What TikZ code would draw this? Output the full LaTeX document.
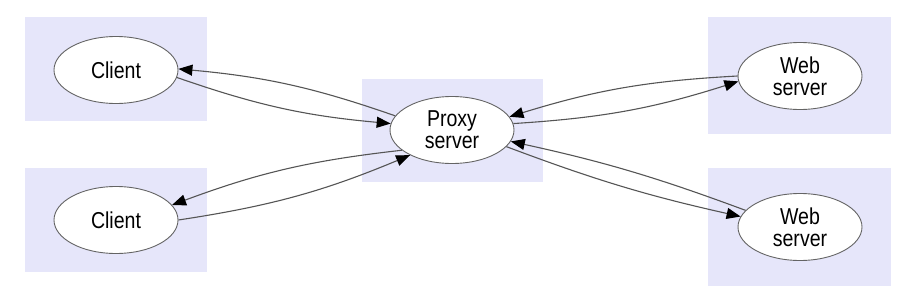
\documentclass[tikz,border=0pt]{standalone}
\usepackage{fontspec}
\setmainfont[FakeStretch=0.85]{Liberation Sans}
\usetikzlibrary{arrows.meta,shapes.geometric}
\definecolor{bgblue}{RGB}{230,230,250}
\definecolor{edgegray}{RGB}{85,85,85}
\definecolor{ellgray}{RGB}{100,100,100}
\begin{document}
\begin{tikzpicture}[x=1pt,y=-1pt,
  bgbox/.style={fill=bgblue,draw=none,inner sep=0pt},
  host/.style={ellipse,draw=ellgray,line width=0.9pt,fill=white,minimum width=124pt,minimum height=67pt,inner sep=0pt,align=center,font=\fontsize{23}{22}\selectfont},
  link/.style={draw=edgegray,line width=1.1pt,-{Triangle[length=14pt,width=11pt,fill=black,color=black]},bend right=7}]
\useasboundingbox (0,0) rectangle (914,300);
% background boxes
\node[bgbox,minimum width=182pt,minimum height=104pt] (bc1) at (116,69) {};
\node[bgbox,minimum width=182pt,minimum height=104pt] (bc2) at (116,220) {};
\node[bgbox,minimum width=181pt,minimum height=103pt] (bp) at (452.5,130.5) {};
\node[bgbox,minimum width=183pt,minimum height=117pt] (bw1) at (799.5,75.5) {};
\node[bgbox,minimum width=183pt,minimum height=118pt] (bw2) at (799.5,227) {};
% hosts
\node[host] (c1) at (116,70) {Client};
\node[host] (c2) at (116,220) {Client};
\node[host] (p) at (452,130) {Proxy\\server};
\node[host] (w1) at (800,76) {Web\\server};
\node[host] (w2) at (800,227) {Web\\server};
% connectors
\draw[link] (c1.-7) to (p.174);
\draw[link] (p.166) to (c1.1);
\draw[link] (c2.0) to (p.211);
\draw[link] (p.202) to (c2.15);
\draw[link] (p.6) to (w1.185);
\draw[link] (w1.180) to (p.13);
\draw[link,bend right=4] (p.-17) to (w2.170);
\draw[link,bend right=4] (w2.163) to (p.-11);
\end{tikzpicture}
\end{document}
